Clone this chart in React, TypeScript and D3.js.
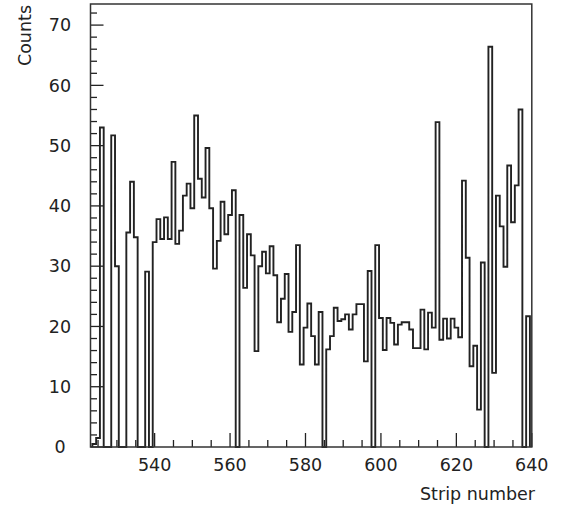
import React from 'react';
import * as d3 from 'd3';

// Histogram: counts per strip, first strip = 524 (bins centred on integer strips)
const firstStrip = 524;
const counts: number[] = [
  0.5, 1.5, 53, 0, 0, 51.7, 30, 0, 0, 35.6, // 524-533
  44, 34.8, 0, 0, 29.1, 0, 34, 37.8, 34.5, 38.1, // 534-543
  34.5, 47.3, 33.7, 35.9, 41.7, 43.7, 39.6, 55, 44.5, 41.4, // 544-553
  49.6, 39.6, 29.6, 34.2, 40.7, 35.3, 38.5, 42.6, 0, 38.5, // 554-563
  26.4, 35.3, 31.8, 15.9, 30, 32.4, 28.8, 33.3, 28.5, 20.7, // 564-573
  24.6, 28.7, 19.1, 22.4, 33.5, 13.7, 19.8, 23.8, 18.4, 13.7, // 574-583
  22.4, 0, 16.2, 18.4, 23.1, 20.9, 21.2, 22, 19.5, 22, // 584-593
  23.7, 23.7, 14.2, 29.2, 0, 33.5, 21.4, 16.1, 21.4, 20.6, // 594-603
  17, 20.3, 20.7, 20.7, 19.5, 16.4, 16.4, 22.8, 16.2, 22.3, // 604-613
  19.8, 53.9, 17.8, 21.3, 18, 21.3, 19.8, 18.2, 44.2, 31.4, // 614-623
  13.4, 16.8, 6.2, 30.6, 0, 66.4, 12.3, 41.7, 36.6, 29.9, // 624-633
  46.7, 37.3, 43.4, 56, 0, 21.7, // 634-639
];

const xDomain = [523, 640];
const yDomain = [0, 73.5];
const xMajorTicks = [540, 560, 580, 600, 620, 640];
const xMinorTicks = [525, 530, 535, 545, 550, 555, 565, 570, 575, 585, 590, 595, 605, 610, 615, 625, 630, 635];
const yMajorTicks = [0, 10, 20, 30, 40, 50, 60, 70];
const yMinorTicks = [2, 4, 6, 8, 12, 14, 16, 18, 22, 24, 26, 28, 32, 34, 36, 38, 42, 44, 46, 48, 52, 54, 56, 58, 62, 64, 66, 68, 72];
const xTitle = 'Strip number';
const yTitle = 'Counts';

const W = 561;
const H = 506;
const F = { left: 90.5, right: 531.8, top: 4, bottom: 447 };
const FONT = '"DejaVu Sans", sans-serif';
const INK = '#222';

export default function App() {
  const x = d3.scaleLinear().domain(xDomain).range([F.left, F.right]);
  const y = d3.scaleLinear().domain(yDomain).range([F.bottom, F.top]);

  const pts: [number, number][] = [];
  pts.push([x(firstStrip - 0.5), y(0)]);
  counts.forEach((v, i) => {
    const s = firstStrip + i;
    pts.push([x(s - 0.5), y(v)]);
    pts.push([x(s + 0.5), y(v)]);
  });
  pts.push([x(firstStrip + counts.length - 0.5), y(0)]);
  const path = d3.line()(pts) || '';

  return (
    <svg
      width={W}
      height={H}
      viewBox={`0 0 ${W} ${H}`}
      style={{ position: 'absolute', left: 0, top: 0, display: 'block', background: '#fff' }}
    >
      <rect x={0} y={0} width={W} height={H} fill="#fff" />
      {/* y ticks */}
      {yMajorTicks.map((t) => (
        <line key={'ym' + t} x1={F.left} x2={F.left + 13} y1={y(t)} y2={y(t)} stroke={INK} strokeWidth={1.3} />
      ))}
      {yMinorTicks.map((t) => (
        <line key={'yn' + t} x1={F.left} x2={F.left + 6.5} y1={y(t)} y2={y(t)} stroke={INK} strokeWidth={1.3} />
      ))}
      {/* x ticks */}
      {xMajorTicks.map((t) => (
        <line key={'xm' + t} x1={x(t)} x2={x(t)} y1={F.bottom} y2={F.bottom - 14} stroke={INK} strokeWidth={1.3} />
      ))}
      {xMinorTicks.map((t) => (
        <line key={'xn' + t} x1={x(t)} x2={x(t)} y1={F.bottom} y2={F.bottom - 7} stroke={INK} strokeWidth={1.3} />
      ))}
      {/* histogram */}
      <path d={path} fill="none" stroke={INK} strokeWidth={1.9} strokeLinejoin="miter" />
      {/* frame */}
      <rect
        x={F.left}
        y={F.top}
        width={F.right - F.left}
        height={F.bottom - F.top}
        fill="none"
        stroke="#333"
        strokeWidth={1.5}
      />
      {/* y labels */}
      {yMajorTicks.map((t) => (
        <text
          key={'yl' + t}
          x={60}
          y={y(t)}
          dy="0.36em"
          textAnchor="middle"
          fontFamily={FONT}
          fontSize={17.5}
          fill={INK}
        >
          {t}
        </text>
      ))}
      {/* x labels */}
      {xMajorTicks.map((t) => (
        <text
          key={'xl' + t}
          x={x(t)}
          y={471}
          textAnchor="middle"
          fontFamily={FONT}
          fontSize={17.5}
          fill={INK}
        >
          {t}
        </text>
      ))}
      <text x={535} y={500} textAnchor="end" fontFamily={FONT} fontSize={17.5} fill={INK}>
        {xTitle}
      </text>
      <text
        transform="translate(31,5) rotate(-90)"
        textAnchor="end"
        fontFamily={FONT}
        fontSize={17.5}
        fill={INK}
      >
        {yTitle}
      </text>
    </svg>
  );
}
